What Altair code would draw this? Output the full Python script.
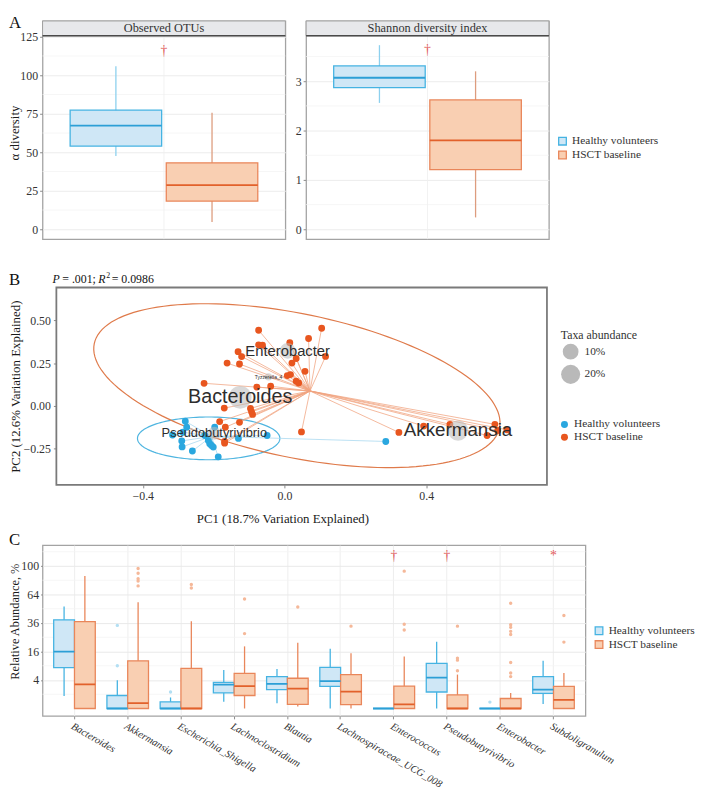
import altair as alt
import numpy as np
import pandas as pd

SERIF = "Liberation Serif"
SANS = "Liberation Sans"

GROUPS = ["Healthy volunteers", "HSCT baseline"]
BOX_FILL = ["#cfe7f6", "#f9cfb2"]
BOX_STROKE = ["#45b3e2", "#e9865a"]
MEDIAN = ["#2c9fd6", "#e2612b"]
WHISKER = ["#8dd0ee", "#dd9c7e"]
OUTLIER = ["#b3dff3", "#f5b899"]
POINT = ["#2aa7df", "#e8561f"]
SPIDER = ["#a6d7ef", "#f0a47f"]
ELLIPSE = ["#4fb5e0", "#df7a4a"]
RED = "#e25c5c"

# ---------------- Panel A data ----------------
obs_q1 = [54.0, 18.3]
obs_med = [67.3, 28.6]
obs_q3 = [77.3, 43.1]
obs_lo = [47.6, 4.7]
obs_hi = [105.8, 75.6]
obs_dagger = [116.0]

sha_q1 = [2.87, 1.21]
sha_med = [3.07, 1.80]
sha_q3 = [3.31, 2.62]
sha_lo = [2.56, 0.24]
sha_hi = [3.73, 3.20]
sha_dagger = [3.63]

obs_ticks = [0, 25, 50, 75, 100, 125]
obs_minor = [12.5, 37.5, 62.5, 87.5, 112.5]
sha_ticks = [0, 1, 2, 3]
sha_minor = [0.5, 1.5, 2.5, 3.5]

# ---------------- Panel B data ----------------
hv_x = [-0.280, -0.276, -0.287, -0.316, -0.290, -0.289, -0.260, -0.225, -0.215,
        -0.211, -0.206, -0.201, -0.187, -0.197, -0.130, -0.049, 0.286]
hv_y = [-0.090, -0.125, -0.154, -0.170, -0.205, -0.240, -0.264, -0.173, -0.202,
        -0.221, -0.231, -0.241, -0.298, -0.125, -0.190, -0.173, -0.208]
hs_x = [-0.073, 0.105, 0.068, -0.073, -0.062, 0.015, -0.131, -0.121, 0.033, 0.021,
        0.116, -0.162, -0.127, 0.058, 0.008, 0.017, 0.033, 0.040, -0.227, -0.078,
        -0.039, -0.170, -0.096, -0.093, -0.090, -0.183, -0.127, -0.167, -0.169, -0.169,
        0.048, 0.323, 0.393, 0.467, 0.594, 0.602, 0.572, 0.628]
hs_y = [0.442, 0.454, 0.394, 0.357, 0.355, 0.369, 0.317, 0.288, 0.277, 0.250,
        0.289, 0.250, 0.245, 0.202, 0.177, 0.183, 0.144, 0.134, 0.132, 0.110,
        0.115, -0.013, -0.015, -0.035, -0.050, -0.092, -0.096, -0.125, -0.208, -0.218,
        -0.152, -0.155, -0.118, -0.108, -0.108, -0.144, -0.173, -0.140]
centroid_x = [-0.206, 0.072]
centroid_y = [-0.178, 0.087]

ell_cx = [-0.214, 0.035]
ell_cy = [-0.190, 0.118]
ell_ux = [0.201, 0.572]
ell_uy = [0.0, -0.246]
ell_vx = [0.0, -0.041]
ell_vy = [0.125, -0.411]

taxa_names = ["Akkermansia", "Bacteroides", "Enterobacter", "Pseudobutyrivibrio", "Tyzzerella_4"]
taxa_x = [0.490, -0.125, 0.009, -0.198, -0.045]
taxa_y = [-0.144, 0.050, 0.322, -0.160, 0.170]
taxa_abund = [25, 38, 10, 5, 0.6]
taxa_font = [19, 20, 15, 13, 5]

# ---------------- Panel C data ----------------
taxa_c = ["Bacteroides", "Akkermansia", "Escherichia_Shigella", "Lachnoclostridium",
          "Blautia", "Lachnospiraceae_UCG_008", "Enterococcus", "Pseudobutyrivibrio",
          "Enterobacter", "Subdoligranulum"]
hv_q1 = [8.2, 0, 0, 1.19, 1.75, 2.41, 0, 1.34, 0, 1.14]
hv_med = [15.9, 0, 0, 2.78, 3.0, 3.68, 0, 4.72, 0, 1.75]
hv_q3 = [38.7, 0.83, 0.22, 3.34, 5.0, 8.3, 0, 9.98, 0, 5.0]
hv_lo = [0.78, 0, 0, 0.22, 0.14, 0, 0, 0, 0, 0.1]
hv_hi = [51.2, 3.9, 0.6, 7.3, 7.7, 17.6, 0, 21.9, 0, 11.2]
hs_q1 = [0, 0, 0, 0.83, 0.08, 0.07, 0, 0, 0, 0]
hs_med = [2.85, 0.14, 0, 2.47, 1.94, 1.41, 0.08, 0, 0, 0.37]
hs_q3 = [37.2, 11.2, 7.9, 6.1, 4.5, 5.66, 2.47, 0.91, 0.49, 2.41]
hs_lo = [0, 0, 0, 0, 0.02, 0, 0, 0, 0, 0]
hs_hi = [86.4, 55.7, 37.5, 19.0, 21.2, 15.0, 13.3, 5.66, 1.19, 6.2]

out_cat = (["Akkermansia"] * 2 + ["Akkermansia"] * 5 + ["Escherichia_Shigella"] +
           ["Escherichia_Shigella"] * 2 + ["Lachnoclostridium"] * 2 + ["Blautia"] +
           ["Lachnospiraceae_UCG_008"] + ["Enterococcus"] * 3 + ["Pseudobutyrivibrio"] * 4 +
           ["Enterobacter"] + ["Enterobacter"] * 8 + ["Subdoligranulum"] * 2)
out_grp = ([0] * 2 + [1] * 5 + [0] + [1] * 2 + [1] * 2 + [1] + [1] + [1] * 3 + [1] * 4 +
           [0] + [1] * 8 + [1] * 2)
out_val = [9.0, 34.0, 96.6, 90.0, 83.0, 80.0, 74.0, 1.34, 75.7, 71.4, 27.6, 59.1, 50.7,
           33.4, 35.0, 30.3, 92.9, 7.0, 11.5, 12.5, 33.4, 0.2, 54.6, 34.5, 32.4, 29.3,
           26.9, 10.4, 6.2, 5.0, 21.7, 42.5]
sig_cat = ["Enterococcus", "Pseudobutyrivibrio", "Subdoligranulum"]
sig_sym = ["†", "†", "*"]
sig_val = [114.6, 114.6, 114.6]

c_ticks = [4, 16, 36, 64, 100]
c_minor = [1, 9, 25, 49, 81, 121]

LEG_FS = 11.5
LETTER_X = -34


# ================= Panel A =================
def panel_a(q1, med, q3, lo, hi, dag, dom, data_top, ticks, minor, strip_text,
            ytitle, show_legend, letter):
    W, H = 246, 221
    df = pd.DataFrame({"group": GROUPS, "q1": q1, "med": med, "q3": q3, "lo": lo, "hi": hi})
    ann = pd.DataFrame({"s_lo": [data_top], "s_hi": [dom[1]],
                        "s_mid": [(data_top + dom[1]) / 2], "dag": dag, "label": [strip_text]})
    ysc = alt.Scale(domain=dom, nice=False, zero=False)
    if ytitle:
        yax = alt.Axis(values=ticks, grid=True, gridColor="#ececec", title=ytitle,
                       titleX=-28, titleY=113, titleAngle=-90, titleAlign="center",
                       titleBaseline="middle", titleFontSize=13, labelFontSize=12,
                       tickSize=3, labelPadding=2)
    else:
        yax = alt.Axis(values=ticks, grid=True, gridColor="#ececec", title=None,
                       labelFontSize=12, tickSize=3, labelPadding=2)

    def Y(f):
        return alt.Y(f, type="quantitative", scale=ysc, axis=yax)

    X = alt.X("group:N", scale=alt.Scale(domain=GROUPS, paddingInner=0.048, paddingOuter=0.287),
              axis=None)
    if show_legend:
        leg = alt.Legend(title=None, orient="none", legendX=254, legendY=116,
                         symbolType="square", symbolSize=60, symbolStrokeWidth=1.3,
                         labelFontSize=LEG_FS, rowPadding=0, labelOffset=4)
    else:
        leg = None
    layers = []
    layers.append(alt.Chart(pd.DataFrame({"v": minor})).mark_rule(color="#f3f3f3", strokeWidth=0.8)
                  .encode(y=Y("v"), x=alt.value(0), x2=alt.value(W)))
    layers.append(alt.Chart(ann).mark_rule(color="#efefef", strokeWidth=0.8)
                  .encode(x=alt.value(W / 2), y=alt.value(15), y2=alt.value(H)))
    for i, g in enumerate(GROUPS):
        layers.append(alt.Chart(df).transform_filter(alt.datum.group == g)
                      .mark_rule(color=WHISKER[i], strokeWidth=1.3)
                      .encode(x=X, y=Y("lo"), y2="hi"))
    layers.append(alt.Chart(df).mark_bar(strokeWidth=1.3).encode(
        x=X, y=Y("q1"), y2="q3",
        fill=alt.Fill("group:N", scale=alt.Scale(domain=GROUPS, range=BOX_FILL), legend=leg),
        stroke=alt.Stroke("group:N", scale=alt.Scale(domain=GROUPS, range=BOX_STROKE), legend=leg)))
    for i, g in enumerate(GROUPS):
        layers.append(alt.Chart(df).transform_filter(alt.datum.group == g)
                      .mark_bar(stroke=MEDIAN[i], strokeWidth=1.8, fillOpacity=0)
                      .encode(x=X, y=Y("med"), y2="med"))
    layers.append(alt.Chart(ann).mark_text(text="†", color=RED, fontSize=14, font=SERIF)
                  .encode(x=alt.value(W / 2), y=Y("dag")))
    layers.append(alt.Chart(ann).mark_rect(fill="#e7e8eb", stroke="#a0a0a0", strokeWidth=1)
                  .encode(x=alt.value(0), x2=alt.value(W), y=Y("s_lo"), y2="s_hi"))
    layers.append(alt.Chart(ann).mark_rule(color="#4a4a4a", strokeWidth=1.5)
                  .encode(x=alt.value(0), x2=alt.value(W), y=Y("s_lo")))
    layers.append(alt.Chart(ann).mark_text(font=SERIF, fontSize=12.5, color="#333333")
                  .encode(x=alt.value(W / 2), y=Y("s_mid"), text="label:N"))
    if letter:
        layers.append(alt.Chart(ann).mark_text(text=letter, font=SERIF, fontSize=17,
                                               align="left", baseline="top", color="#111111")
                      .encode(x=alt.value(LETTER_X), y=alt.value(-6)))
    return alt.layer(*layers).properties(width=W, height=H)


left = panel_a(obs_q1, obs_med, obs_q3, obs_lo, obs_hi, obs_dagger, [-6.4, 135.2], 125.6,
               obs_ticks, obs_minor, "Observed OTUs", "α diversity", False, "A")
right = panel_a(sha_q1, sha_med, sha_q3, sha_lo, sha_hi, sha_dagger, [-0.2, 4.22], 3.92,
                sha_ticks, sha_minor, "Shannon diversity index", None, True, None)
RES = dict(color="independent", fill="independent", stroke="independent", size="independent")
rowA = alt.hconcat(left, right, spacing=7).resolve_scale(**RES)

# ================= Panel B =================
# plot area starts 14 px left of the drawn frame so that B's frame sits further right
SH = 14
WB, HB = 497 + SH, 200
pts = pd.DataFrame({
    "group": [GROUPS[0]] * len(hv_x) + [GROUPS[1]] * len(hs_x),
    "x": hv_x + hs_x, "y": hv_y + hs_y,
    "cx": [centroid_x[0]] * len(hv_x) + [centroid_x[1]] * len(hs_x),
    "cy": [centroid_y[0]] * len(hv_x) + [centroid_y[1]] * len(hs_x),
})
tt = np.linspace(0, 2 * np.pi, 145)
ell_rows = []
for i, g in enumerate(GROUPS):
    for k, t in enumerate(tt):
        ell_rows.append({"group": g, "o": k,
                         "ex": ell_cx[i] + ell_ux[i] * np.cos(t) + ell_vx[i] * np.sin(t),
                         "ey": ell_cy[i] + ell_uy[i] * np.cos(t) + ell_vy[i] * np.sin(t)})
ell = pd.DataFrame(ell_rows)
taxa = pd.DataFrame({"name": taxa_names, "tx": taxa_x, "ty": taxa_y, "ab": taxa_abund})
annB = pd.DataFrame({"k": [0]})

xsB = alt.Scale(domain=[-0.683, 0.741], nice=False, zero=False)
ysB = alt.Scale(domain=[-0.462, 0.692], nice=False, zero=False)
xaxB = alt.Axis(values=[-0.4, 0, 0.4], format=".1f", grid=False,
                title="PC1 (18.7% Variation Explained)", titleX=243, titleY=28,
                titleFontSize=13, labelFontSize=12, tickSize=3, labelPadding=3)
yaxB = alt.Axis(values=[-0.25, 0, 0.25, 0.5], format=".2f", grid=False, offset=-SH,
                title="PC2 (12.6% Variation Explained)", titlePadding=1,
                titleFontSize=13, labelFontSize=12, tickSize=3, labelPadding=3)


def XB(f):
    return alt.X(f, type="quantitative", scale=xsB, axis=xaxB)


def YB(f):
    return alt.Y(f, type="quantitative", scale=ysB, axis=yaxB)


lb = []
for i, g in enumerate(GROUPS):
    lb.append(alt.Chart(ell).transform_filter(alt.datum.group == g)
              .mark_line(color=ELLIPSE[i], strokeWidth=1.2)
              .encode(x=XB("ex"), y=YB("ey"), order="o:Q"))
for i, g in enumerate(GROUPS):
    lb.append(alt.Chart(pts).transform_filter(alt.datum.group == g)
              .mark_rule(color=SPIDER[i], strokeWidth=0.9, opacity=0.85)
              .encode(x=XB("x"), y=YB("y"), x2="cx", y2="cy"))
lb.append(alt.Chart(pts).mark_circle(size=48, opacity=1).encode(
    x=XB("x"), y=YB("y"),
    color=alt.Color("group:N", scale=alt.Scale(domain=GROUPS, range=POINT),
                    legend=alt.Legend(title=None, orient="none", legendX=509 + SH, legendY=133,
                                      symbolType="circle", symbolSize=50,
                                      labelFontSize=LEG_FS, rowPadding=0, labelOffset=4))))
lb.append(alt.Chart(taxa).mark_circle(color="#b9b9b9", opacity=0.55).encode(
    x=XB("tx"), y=YB("ty"),
    size=alt.Size("ab:Q", scale=alt.Scale(type="pow", exponent=0.55, domain=[0, 40], range=[0, 545]),
                  legend=alt.Legend(title="Taxa abundance", values=[10, 20],
                                    labelExpr="datum.value + '%'", orient="none",
                                    legendX=511 + SH, legendY=43, symbolFillColor="#d9d9d9",
                                    symbolStrokeWidth=0, symbolOpacity=1, symbolType="circle",
                                    titleFontSize=12, labelFontSize=LEG_FS, rowPadding=5,
                                    titlePadding=2, labelOffset=4))))
for i, nm in enumerate(taxa_names):
    lb.append(alt.Chart(taxa).transform_filter(alt.datum.name == nm)
              .mark_text(font=SANS, fontSize=taxa_font[i], color="#2d2d2d")
              .encode(x=XB("tx"), y=YB("ty"), text="name:N"))
# frame of the panel
lb.append(alt.Chart(annB).mark_rect(fillOpacity=0, stroke="#7a7a7a", strokeWidth=1.8)
          .encode(x=alt.value(SH), x2=alt.value(WB), y=alt.value(0), y2=alt.value(HB)))
# stats subtitle + letter
segs = [("P", 10, "italic", 12, -9), ("= .001;", 20, "normal", 12, -9),
        ("R", 56.5, "italic", 12, -9), ("2", 64.5, "normal", 8, -12),
        ("= 0.0986", 70, "normal", 12, -9)]
for txt, sx, st, fs, sy in segs:
    lb.append(alt.Chart(annB).mark_text(text=txt, font=SERIF, fontStyle=st, fontSize=fs,
                                        align="left", baseline="middle", color="#111111")
              .encode(x=alt.value(sx), y=alt.value(sy)))
lb.append(alt.Chart(annB).mark_text(text="B", font=SERIF, fontSize=17, align="left",
                                    baseline="top", color="#111111")
          .encode(x=alt.value(LETTER_X), y=alt.value(-16)))
rowB = alt.layer(*lb).properties(width=WB, height=HB,
                                 view=alt.ViewBackground(strokeWidth=0))

# ================= Panel C =================
WC, HC = 550, 173
rows = []
for j, c in enumerate(taxa_c):
    rows.append({"cat": c, "group": GROUPS[0], "q1": hv_q1[j], "med": hv_med[j], "q3": hv_q3[j],
                 "lo": hv_lo[j], "hi": hv_hi[j]})
    rows.append({"cat": c, "group": GROUPS[1], "q1": hs_q1[j], "med": hs_med[j], "q3": hs_q3[j],
                 "lo": hs_lo[j], "hi": hs_hi[j]})
boxc = pd.DataFrame(rows)
outc = pd.DataFrame({"cat": out_cat, "group": [GROUPS[g] for g in out_grp], "v": out_val})
sigc = pd.DataFrame({"cat": sig_cat, "sym": sig_sym, "v": sig_val})
annC = pd.DataFrame({"k": [0]})

xsC = alt.Scale(domain=taxa_c, paddingInner=0, paddingOuter=0.1)
xaxC = alt.Axis(title=None, labelAngle=30, labelAlign="left", labelBaseline="top",
                labelFontStyle="italic", labelFontSize=10.5, grid=True, gridColor="#eeeeee",
                tickSize=3, labelPadding=2)
ysC = alt.Scale(type="sqrt", domain=[-0.27, 131.4], nice=False, zero=False)
yaxC = alt.Axis(values=c_ticks, grid=True, gridColor="#e9e9e9", title="Relative Abundance, %",
                titleX=-28, titleY=77, titleAngle=-90, titleAlign="center",
                titleBaseline="middle", titleFontSize=12.5, labelFontSize=12, tickSize=2,
                labelPadding=2)
XO = alt.XOffset("group:N", scale=alt.Scale(domain=GROUPS, paddingInner=0, paddingOuter=0.28))


def XC(f):
    return alt.X(f, type="nominal", scale=xsC, axis=xaxC)


def YC(f):
    return alt.Y(f, type="quantitative", scale=ysC, axis=yaxC)


lc = []
lc.append(alt.Chart(pd.DataFrame({"v": c_minor})).mark_rule(color="#f3f3f3", strokeWidth=0.8)
          .encode(y=YC("v"), x=alt.value(0), x2=alt.value(WC)))
for i, g in enumerate(GROUPS):
    lc.append(alt.Chart(boxc).transform_filter(alt.datum.group == g)
              .mark_rule(color=BOX_STROKE[i], strokeWidth=1.3)
              .encode(x=XC("cat"), xOffset=XO, y=YC("lo"), y2="hi"))
legC = alt.Legend(title=None, orient="none", legendX=558, legendY=81, symbolType="square",
                  symbolSize=60, symbolStrokeWidth=1.3, labelFontSize=LEG_FS, rowPadding=0,
                  labelOffset=4)
lc.append(alt.Chart(boxc).mark_bar(strokeWidth=1.3).encode(
    x=XC("cat"), xOffset=XO, y=YC("q1"), y2="q3",
    fill=alt.Fill("group:N", scale=alt.Scale(domain=GROUPS, range=BOX_FILL), legend=legC),
    stroke=alt.Stroke("group:N", scale=alt.Scale(domain=GROUPS, range=BOX_STROKE), legend=legC)))
for i, g in enumerate(GROUPS):
    lc.append(alt.Chart(boxc).transform_filter(alt.datum.group == g)
              .mark_bar(stroke=MEDIAN[i], strokeWidth=1.8, fillOpacity=0)
              .encode(x=XC("cat"), xOffset=XO, y=YC("med"), y2="med"))
for i, g in enumerate(GROUPS):
    lc.append(alt.Chart(outc).transform_filter(alt.datum.group == g)
              .mark_circle(color=OUTLIER[i], size=12, opacity=1)
              .encode(x=XC("cat"), xOffset=XO, y=YC("v")))
lc.append(alt.Chart(sigc).mark_text(color=RED, fontSize=14, font=SERIF)
          .encode(x=XC("cat"), y=YC("v"), text="sym:N"))
lc.append(alt.Chart(annC).mark_text(text="C", font=SERIF, fontSize=17, align="left",
                                    baseline="top", color="#111111")
          .encode(x=alt.value(LETTER_X), y=alt.value(-13)))
rowC = alt.layer(*lc).properties(width=WC, height=HC)

rowBC = alt.vconcat(rowB, rowC, spacing=5).resolve_scale(**RES)
chart = (alt.vconcat(rowA, rowBC, spacing=30)
         .resolve_scale(**RES)
         .properties(padding=0)
         .configure(font=SERIF)
         .configure_view(stroke="#a3a3a3", strokeWidth=1.3)
         .configure_axis(labelFont=SERIF, titleFont=SERIF, labelColor="#333333",
                         titleColor="#1a1a1a", tickColor="#8a8a8a", domain=False,
                         titleFontWeight="normal")
         .configure_legend(labelFont=SERIF, titleFont=SERIF, titleFontWeight="normal",
                           labelColor="#333333", titleColor="#333333"))

chart.save("out.html", embed_options={"renderer": "svg", "actions": False})
